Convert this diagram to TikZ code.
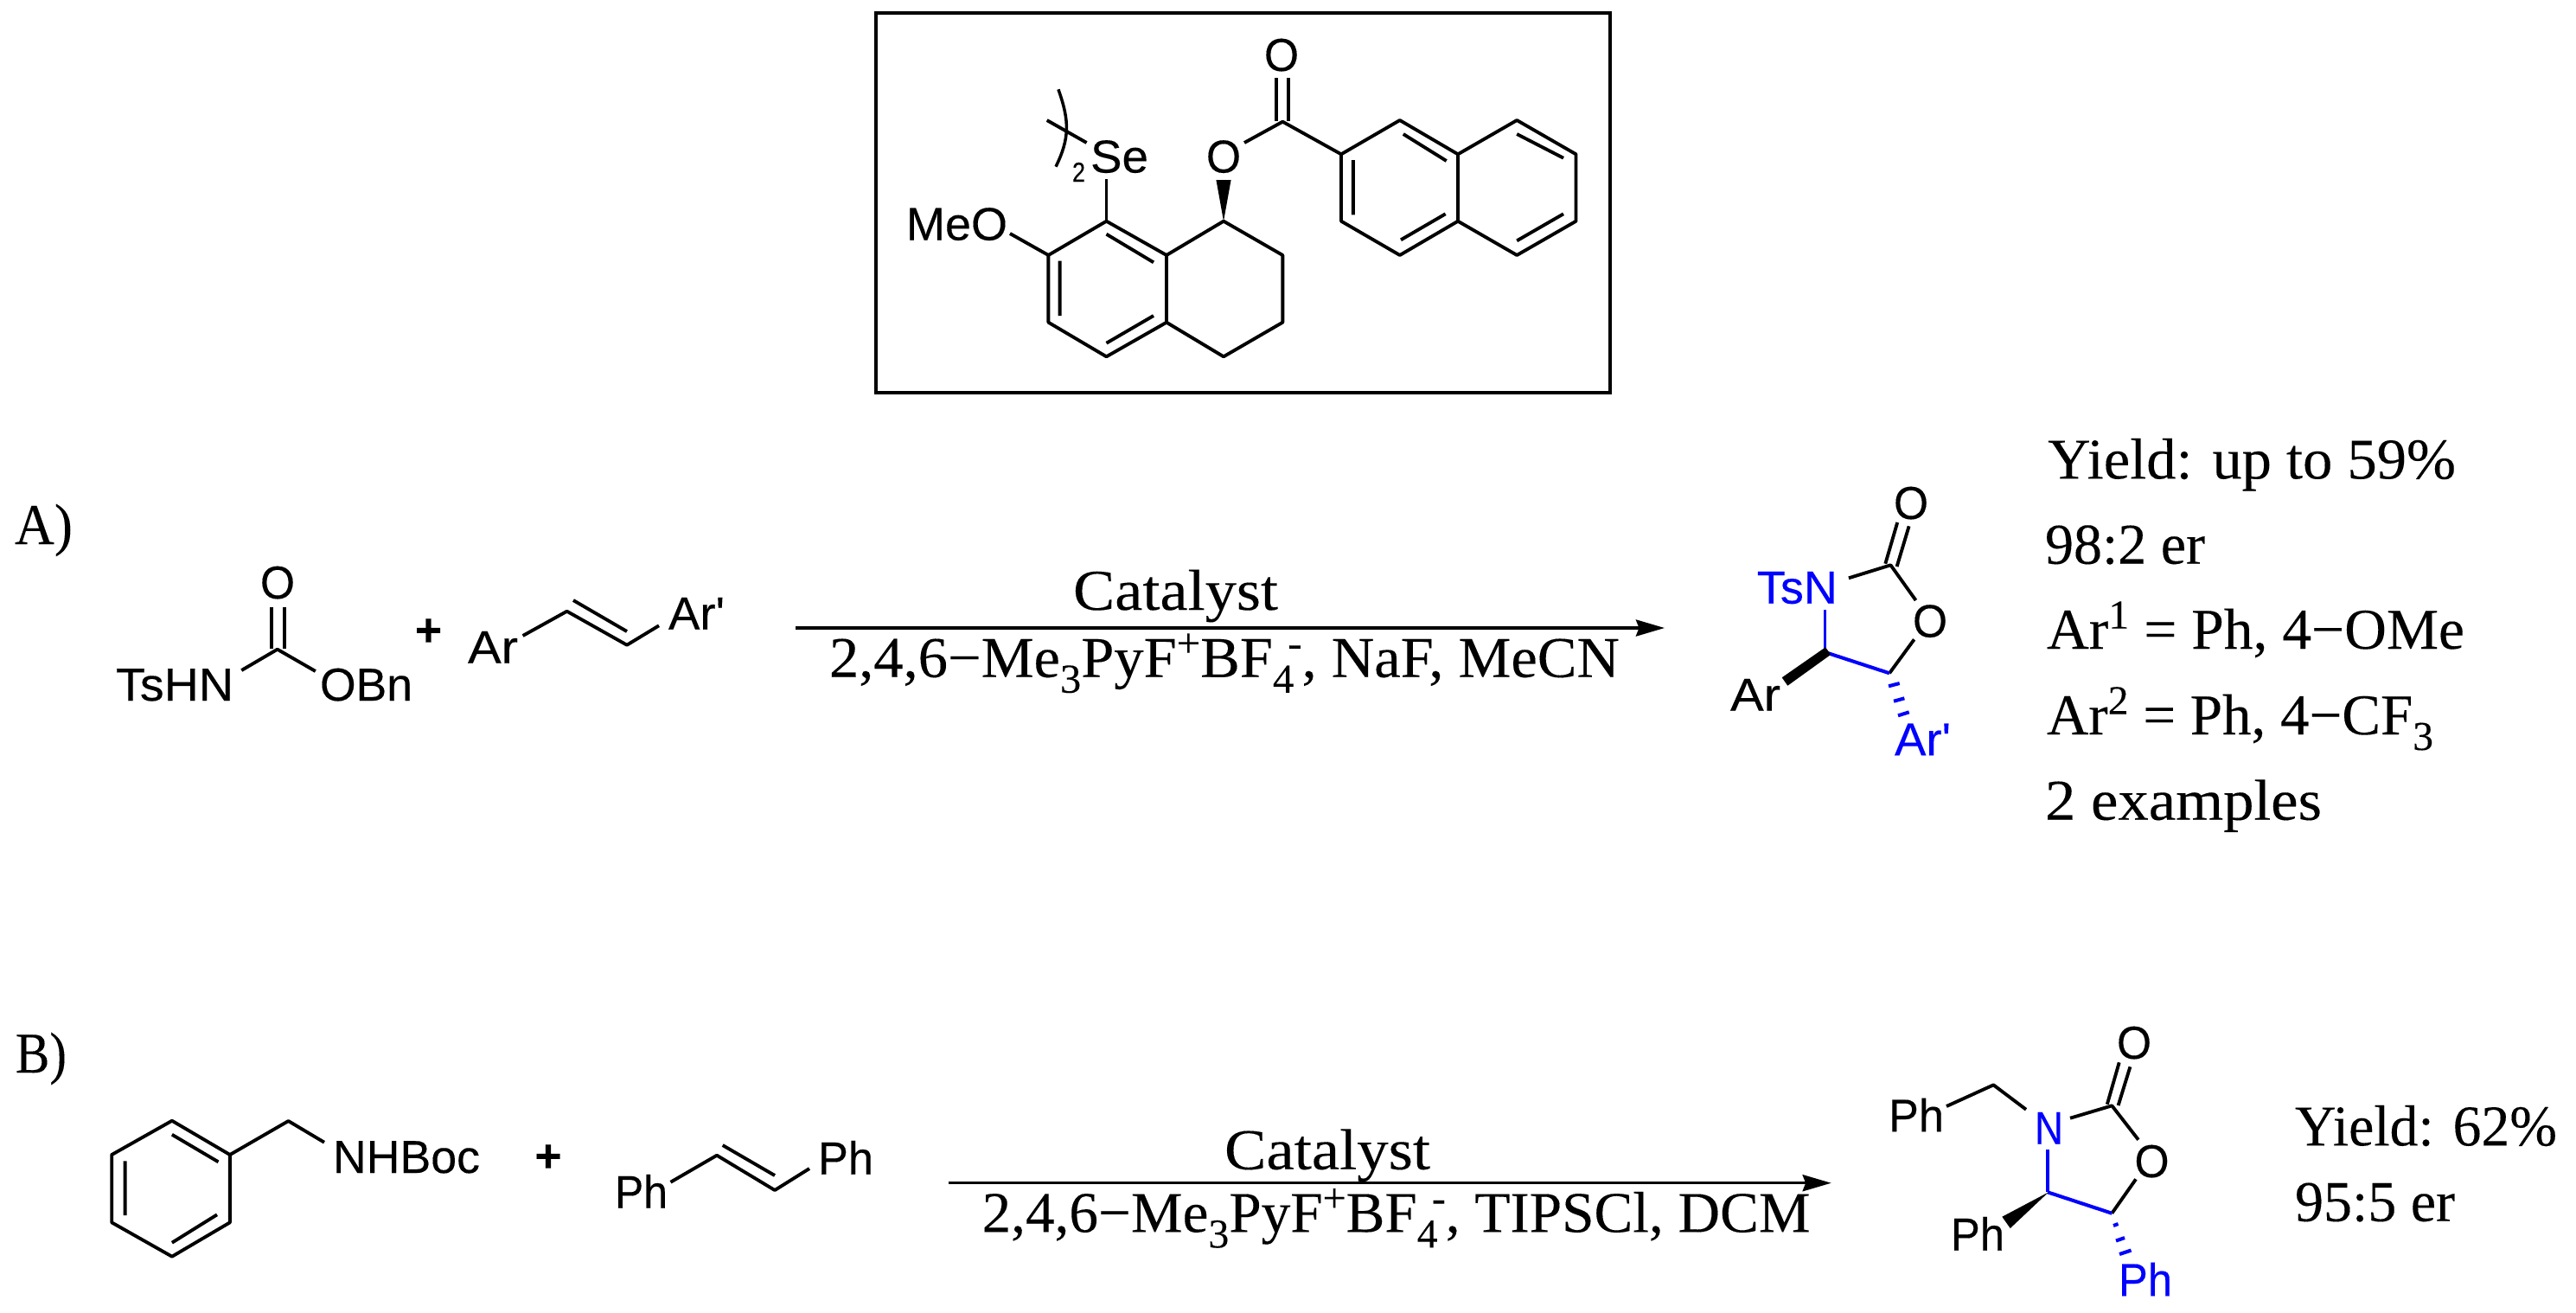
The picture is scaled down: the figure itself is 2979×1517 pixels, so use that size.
\documentclass[tikz,border=0pt]{standalone}
\usepackage{fontspec}
\usepackage{graphicx}
\setmainfont{Liberation Serif}[FakeBold=0.15]
\setsansfont{Liberation Sans}[FakeBold=0.25]
\usetikzlibrary{arrows.meta}
\definecolor{chemblue}{RGB}{0,0,255}
\newlength\pxu \setlength\pxu{0.01cm}
\tikzset{
  lab/.style={anchor=base west,inner sep=0pt,outer sep=0pt},
  chemfont/.style={font=\fontsize{15.2}{18}\sffamily\selectfont},
  textfont/.style={font=\fontsize{19}{23}\rmfamily\selectfont},
  plusfont/.style={font=\fontsize{15.2}{18}\sffamily\bfseries\selectfont,inner sep=0pt},
  bond/.style={line width=1.1pt,line join=round},
  bluebond/.style={line width=1.15pt,color=chemblue,line join=round},
  thinblue/.style={color=chemblue,line width=.9pt},
  hashb/.style={line width=1.15pt,color=chemblue},
  rxn/.style={line width=1pt,-{Stealth[length=9.4pt,width=5.4pt,inset=1pt]}},
}
% name, x, y, width, text
\newcommand\cl[6][black]{\node[lab,chemfont,text=#1] (#2) at (#3,#4) {\resizebox{#5\pxu}{\height}{#6}};}
\newcommand\tl[5]{\node[lab,textfont] (#1) at (#2,#3) {\resizebox{#4\pxu}{\height}{#5}};}
\newcommand\sbs[1]{\raisebox{-.27em}{\fontsize{13.5}{15}\selectfont #1}}
\newcommand\sps[1]{\raisebox{.35em}{\fontsize{13.5}{15}\selectfont #1}}
\begin{document}
\begin{tikzpicture}[x=0.01cm,y=-0.01cm]
\useasboundingbox (0,0) rectangle (2979,1517);
% catalyst box
\draw[line width=1pt] (1013,15) rectangle (1862,454);
\foreach \n/\p in {a1/{1279.5,255.7},a2/{1349,295},a3/{1349,372.7},a4/{1279.5,412.3},a5/{1212.4,372.7},a6/{1212.4,295},
  b1/{1415,255.7},b2/{1483.3,295},b3/{1483.3,372.7},b4/{1415,412.3},
  n1/{1551,178.3},n2/{1618.8,139},n3/{1686,178.3},n4/{1686,255.7},n5/{1618.8,295},n6/{1551,255.7},
  n7/{1754.2,139},n8/{1822.5,178.3},n9/{1822.5,255.7},n10/{1754.2,295},co/{1483.3,140.7}}
  {\coordinate (\n) at (\p);}
\draw[bond] (a1)--(a2)--(a3)--(a4)--(a5)--(a6)--cycle;
\draw[bond] (a2)--(b1)--(b2)--(b3)--(b4)--(a3);
\draw[bond] (1279.5,270.7)--(1334,303.3) (1334,365)--(1279.5,396.7) (1225.6,301.7)--(1225.6,365);
\draw[bond] (n1)--(n2)--(n3)--(n4)--(n5)--(n6)--cycle;
\draw[bond] (n3)--(n7)--(n8)--(n9)--(n10)--(n4);
\draw[bond] (1622.8,155)--(1672.7,186) (1564.8,185)--(1564.8,248.3) (1671.6,247.3)--(1620,277.3)
  (1754.2,155)--(1808,182.7) (1808,247.3)--(1754.2,278.3);
\draw[bond] (1439,165)--(co)--(n1);
\draw[bond] (1476.4,90)--(1476.4,140) (1489.6,90)--(1489.6,140);
\fill[black] (b1) -- (1406.4,208) -- (1423.6,208) -- cycle;
\draw[bond] (a1)--(1279.5,207.3);
\draw[bond] (a6)--(1168,270);
\draw[bond] (1210.7,139)--(1256.6,165);
\draw[line width=1pt] (1223.9,103.3) .. controls (1237,140) and (1237,160) .. (1221,192.7);
\cl{se}{1261}{199.5}{67}{Se}
\cl{meo}{1048}{277.5}{117}{MeO}
\node[lab,font=\fontsize{9}{10}\sffamily\selectfont] (sub2) at (1240,210) {\resizebox{15\pxu}{\height}{2}};
\cl{oe}{1395}{199.5}{40}{O}
\cl{oc}{1462}{82}{40}{O}
% A)
\tl{lA}{17}{629}{67}{A)}
\cl{oa}{301}{692}{40}{O}
\draw[bond] (313.8,701.7)--(313.8,750) (329,701.7)--(329,750);
\coordinate (ca) at (320.8,750.7);
\draw[bond] (279.3,775)--(ca)--(364.8,776);
\cl{tshn}{134}{810}{136}{TsHN}
\cl{obn}{370}{810}{107}{OBn}
\node[plusfont] (plusA) at (495.5,731) {+};
\cl{ar1}{541}{766.7}{58}{Ar}
\cl{ar2}{773}{727.7}{65}{Ar\textquotesingle}
\draw[bond] (604.6,735)--(655.6,706.7)--(725,745.7)--(762,723.3);
\draw[bond] (663,694)--(725,730);
% arrow A
\coordinate (aS) at (920,726); \coordinate (aE) at (1925,726);
\draw[rxn] (aS)--(aE);
\tl{catA}{1241}{705}{237}{Catalyst}
\tl{condA}{959}{782.7}{914}{2,4,6−Me\sbs{3}PyF\sps{+}BF\sbs{4}\kern-.1em\sps{-}, NaF, MeCN}
% product A
\cl{otA}{2190}{600}{40}{O}
\draw[bond] (2194.2,604)--(2180.3,651.7) (2207.6,608.3)--(2193.6,655);
\coordinate (cA) at (2186.4,653.3);
\draw[bond] (2137.9,668.3)--(cA)--(2215.5,694);
\cl{orA}{2212}{736.5}{40}{O}
\draw[bond] (2213.6,739.3)--(2185,778.3);
\cl[chemblue]{tsn}{2031.8}{697.7}{93}{TsN}
\draw[thinblue] (2110.6,705)--(2110.6,750);
\draw[bluebond] (2110.6,754)--(2185,778.3);
\fill[black] (2111,748.3)--(2117.3,756.7)--(2067.3,792.7)--(2060.7,783.3)--cycle;
\cl{arA}{2001}{821.7}{58}{Ar}
\draw[hashb] (2184,793.3)--(2196.7,790) (2190,810.7)--(2202.3,807.3) (2195,827.3)--(2207.7,823.3);
\cl[chemblue]{arpA}{2191}{873.3}{65}{Ar\textquotesingle}
% results A
\tl{yA}{2368}{553.3}{472}{Yield: up to 59\%}
\tl{erA}{2365}{651.7}{185}{98:2 er}
\tl{r1A}{2367}{750}{483}{Ar\sps{1} = Ph, 4−OMe}
\tl{r2A}{2367}{849}{447}{Ar\sps{2} = Ph, 4−CF\sbs{3}}
\tl{exA}{2365}{947.7}{320}{2 examples}
% B)
\tl{lB}{18}{1240}{59}{B)}
\foreach \n/\p in {r1/{198.9,1295.7},r2/{265.9,1335},r3/{265.9,1413.3},r4/{198.9,1452.7},r5/{129.2,1413.3},r6/{129.2,1335}}
  {\coordinate (\n) at (\p);}
\draw[bond] (r1)--(r2)--(r3)--(r4)--(r5)--(r6)--cycle;
\draw[bond] (198.9,1311.7)--(252.5,1343.3) (144.6,1342.3)--(144.6,1405) (251,1404.3)--(198.9,1436.7);
\draw[bond] (r2)--(333.5,1296)--(375,1320.7);
\cl{nhboc}{385}{1356}{170}{NHBoc}
\node[plusfont] (plusB) at (634,1339) {+};
\cl{ph1}{711}{1396.7}{61}{Ph}
\cl{ph2}{946}{1357.7}{64}{Ph}
\draw[bond] (775.5,1366.7)--(829,1335.7)--(896,1376)--(936,1351);
\draw[bond] (835.7,1324)--(896,1359);
% arrow B
\coordinate (bS) at (1097,1367.7); \coordinate (bE) at (2117.7,1367.7);
\draw[rxn] (bS)--(bE);
\tl{catB}{1416}{1351.7}{238}{Catalyst}
\tl{condB}{1135.6}{1424.3}{958}{2,4,6−Me\sbs{3}PyF\sps{+}BF\sbs{4}\kern-.1em\sps{-}, TIPSCl, DCM}
% product B
\cl{otB}{2448}{1224}{40}{O}
\draw[bond] (2450.7,1228.3)--(2436.8,1276.7) (2463.4,1233.3)--(2449.6,1278);
\coordinate (cB) at (2442.3,1278.3);
\draw[bond] (2394,1292.7)--(cB)--(2472.9,1317.7);
\cl{orB}{2468.5}{1361}{40}{O}
\draw[bond] (2470,1363.3)--(2442.3,1402.7);
\cl[chemblue]{nB}{2353}{1322.7}{33}{N}
\draw[thinblue] (2368,1329)--(2368,1378.3);
\draw[bluebond] (2368,1378.3)--(2442.3,1402.7);
\fill[black] (2369,1378.3)--(2315.3,1406.7)--(2324.7,1420)--cycle;
\cl{phB}{2256}{1445.7}{62}{Ph}
\cl[chemblue]{phbB}{2450}{1498.3}{62}{Ph}
\cl{phtB}{2184}{1308.3}{64}{Ph}
\draw[bond] (2251,1279)--(2305.3,1254.3)--(2343,1282.7);
\draw[hashb] (2444,1417)--(2449.5,1415) (2447,1434.5)--(2457,1431) (2451,1450)--(2464.5,1445.5);
\tl{yB}{2654}{1324.3}{303}{Yield: 62\%}
\tl{erB}{2654}{1411.7}{185}{95:5 er}
\end{tikzpicture}
\end{document}
